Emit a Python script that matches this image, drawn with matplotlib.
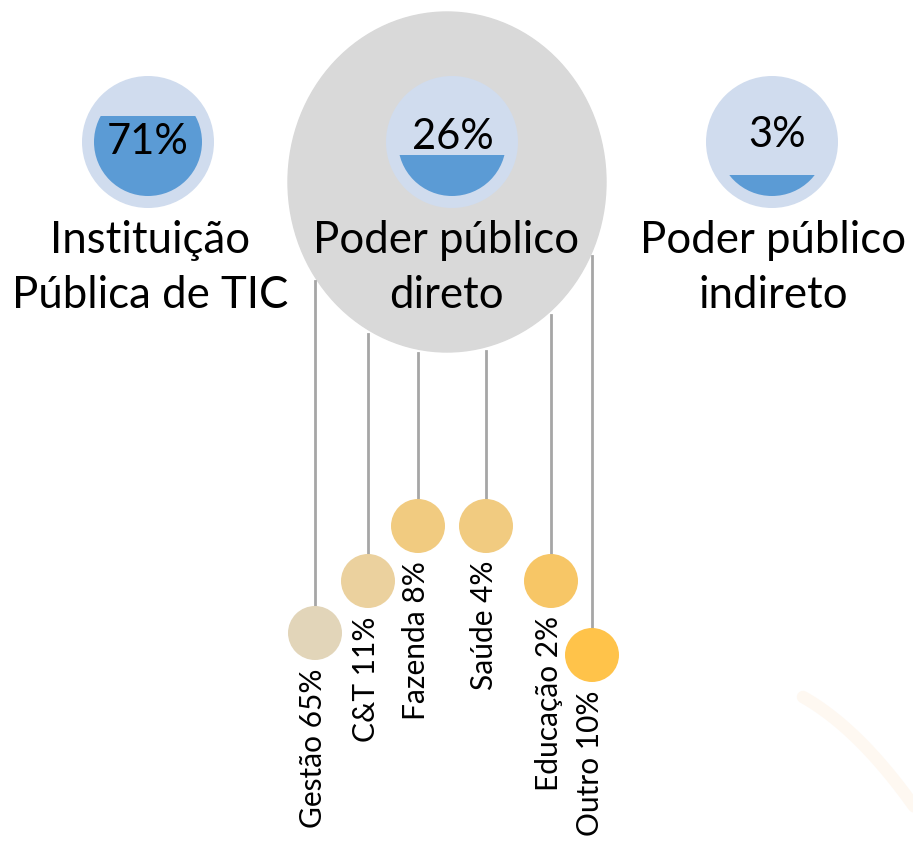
import numpy as np
import matplotlib.pyplot as plt
from matplotlib.patches import Circle, Ellipse, Rectangle

plt.rcParams['font.family'] = ['Lato', 'DejaVu Sans']

# data
groups = ["Instituição\nPública de TIC", "Poder público\ndireto", "Poder público\nindireto"]
group_share = [0.71, 0.26, 0.03]

areas = ["Gestão", "C&T", "Fazenda", "Saúde", "Educação", "Outro"]
area_share = [65, 11, 8, 4, 2, 10]

# layout (pixel coords, y down)
W, H = 913, 843
group_x = [148, 452, 772]
group_y = 142
outer_r, inner_r = 66, 54
pct_pos = [(148, 142), (453, 137), (777, 135)]
label_x = [150, 446, 773]
label_y = 220

big_cx, big_cy, big_rx, big_ry = 447, 182, 159, 170

dot_x = [315, 368, 418, 486, 551, 592]
dot_y = [633, 581, 526, 526, 581, 655]
dot_r = 27
dot_colors = ["#e2d5b9", "#ebd19e", "#f1cb80", "#f1cb80", "#f7c666", "#ffc34a"]

fig = plt.figure(figsize=(W / 100, H / 100), dpi=100)
ax = fig.add_axes([0, 0, 1, 1])
ax.set_xlim(0, W)
ax.set_ylim(H, 0)
ax.axis('off')

# faint decorative swoosh bottom right
t = np.linspace(0, 1, 60)
sx = 803 + 115 * t
sy = 697 + 65 * t + 50 * t ** 2
ax.plot(sx, sy, color='#fde8d2', lw=9, alpha=0.3, solid_capstyle='round', zorder=0)

# big grey circle behind the middle group
ax.add_patch(Ellipse((big_cx, big_cy), 2 * big_rx, 2 * big_ry, color='#d9d9d9', zorder=1))

# liquid-fill circles
for cx, share, (px, py) in zip(group_x, group_share, pct_pos):
    ax.add_patch(Circle((cx, group_y), outer_r, color='#d0dcee', lw=0, zorder=2))
    level = 0.17 + 0.8 * share
    top = group_y + inner_r - level * 2 * inner_r
    clip = Rectangle((cx - inner_r, top), 2 * inner_r, 2 * inner_r + 5, transform=ax.transData)
    fill = Circle((cx, group_y), inner_r, color='#5b9bd5', lw=0, zorder=3)
    ax.add_patch(fill)
    fill.set_clip_path(clip)
    ax.text(px, py, f"{share * 100:.0f}%", ha='center', va='center', fontsize=30, zorder=5)

for lx, name in zip(label_x, groups):
    ax.text(lx, label_y, name, ha='center', va='top', fontsize=31.5,
            linespacing=1.42, zorder=5)

# connector lines and small circles
for x, y, c, name, v in zip(dot_x, dot_y, dot_colors, areas, area_share):
    edge = big_cy + big_ry * np.sqrt(max(0.0, 1 - ((x - big_cx) / big_rx) ** 2)) + 4
    ax.plot([x, x], [edge, y - dot_r], color='#a6a6a6', lw=2, zorder=1.5)
    ax.add_patch(Circle((x, y), dot_r, color=c, lw=0, zorder=3))
    ax.text(x - 2, y + dot_r + 8, f"{name} {v}%", rotation=90, ha='center', va='top',
            fontsize=21.5, zorder=5)

fig.savefig("out.png", dpi=100)
